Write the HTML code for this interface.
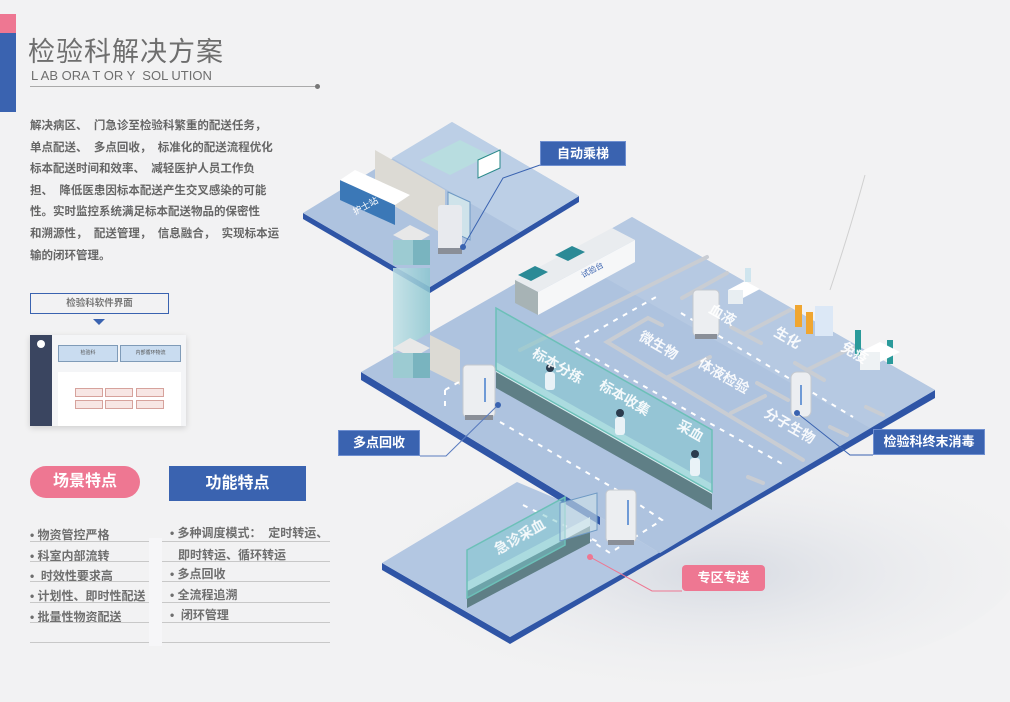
<!DOCTYPE html>
<html><head><meta charset="utf-8"><style>
*{margin:0;padding:0;box-sizing:border-box}
body{width:1010px;height:702px;overflow:hidden;background:#f2f2f3;font-family:"Liberation Sans","Noto Sans CJK SC",sans-serif;position:relative}
.abs{position:absolute}
.para{left:30px;top:116px;width:245px;font-size:11.5px;font-weight:bold;color:#666;line-height:21.6px;white-space:nowrap}
.li{font-size:12px;font-weight:bold;color:#6e6e6e;white-space:nowrap}
.ln{height:1px;background:#c8c8c8}
</style></head><body>
<svg class="abs" style="left:0;top:0" width="1010" height="702">
<defs>
<radialGradient id="g1" cx="0.6" cy="0.55" r="0.5"><stop offset="0" stop-color="#d6dae2"/><stop offset="1" stop-color="#f2f2f3" stop-opacity="0"/></radialGradient>
<linearGradient id="sh" x1="0" y1="0" x2="1" y2="0"><stop offset="0" stop-color="#bfe0e6"/><stop offset="1" stop-color="#8cc6d0"/></linearGradient>
</defs>
<rect x="0" y="0" width="1010" height="702" fill="#f2f2f3"/>
<ellipse cx="640" cy="560" rx="380" ry="130" fill="url(#g1)"/>
<!-- top platform -->
<polygon points="303,213 430,287 430,293 303,219" fill="#2f55a6"/>
<polygon points="430,287 579,196 579,202 430,293" fill="#2f55a6"/>
<polygon points="303,213 452,122 579,196 430,287" fill="#aec3df"/>
<polygon points="452,122 579,196 520,232 392,158" fill="#bccfe6"/>
<polygon points="375,150 445,190 445,235 375,195" fill="#dcdad4"/>
<polygon points="340,180 395,205 395,225 340,200" fill="#3b78b7"/>
<polygon points="340,180 355,170 410,195 395,205" fill="#fff"/>
<text x="355" y="215" fill="#fff" font-size="9" transform="rotate(-28 355 215)">护士站</text>
<polygon points="420,160 460,140 490,155 450,175" fill="#b8dde0"/>
<polygon points="478,160 500,150 500,168 478,178" fill="#fff" stroke="#2a8a8a" stroke-width="1"/>
<polygon points="448,192 470,202 470,240 448,230" fill="#cfe3ea" stroke="#6f9ac4" stroke-width="1"/>
<rect x="438" y="205" width="24" height="48" rx="3" fill="#e8eaee"/>
<rect x="438" y="248" width="24" height="6" fill="#8a8f98"/>
<polygon points="393,235 410,225 430,235 413,245" fill="#e8e8e8"/>
<rect x="393" y="240" width="20" height="25" fill="#9ccbd2"/>
<rect x="413" y="240" width="17" height="25" fill="#79b4bf"/>
<rect x="393" y="268" width="37" height="100" fill="url(#sh)" opacity="0.85"/>
<!-- bottom platform (behind) -->
<polygon points="382,563 510,637 510,644 382,570" fill="#2f55a6"/>
<polygon points="510,637 935,390 935,398 510,644" fill="#2f55a6"/>
<polygon points="382,563 517,482 600,517 660,553 680,541 510,637" fill="#b3c7e2"/>
<!-- main platform -->
<polygon points="361,372 600,517 600,525 361,380" fill="#2f55a6"/>
<polygon points="361,372 632,217 935,390 680,541 660,553 600,517" fill="#aec3df"/>
<polygon points="632,217 935,390 870,428 565,255" fill="#b6c9e2"/>
<polygon points="393,348 410,338 430,348 413,358" fill="#e8e8e8"/>
<rect x="393" y="353" width="20" height="25" fill="#9ccbd2"/>
<rect x="413" y="353" width="17" height="25" fill="#79b4bf"/>
<polygon points="430,335 460,350 460,385 430,370" fill="#dcdad4"/>
<polygon points="515,280 612,228 635,240 538,292" fill="#e9ecef"/>
<polygon points="515,280 538,292 538,315 515,303" fill="#a7b3b5"/>
<polygon points="538,292 635,240 635,262 538,315" fill="#f6f7f8"/>
<polygon points="518,275 535,266 548,272 531,281" fill="#2b8a96"/>
<polygon points="555,255 572,246 585,252 568,261" fill="#2b8a96"/>
<text x="583" y="278" fill="#3a63b0" font-size="8" transform="rotate(-28 583 278)">试验台</text>
<g stroke="#c9cdd3" stroke-width="4" stroke-linecap="round" fill="none">
<line x1="520" y1="350" x2="707" y2="257"/>
<polyline points="662,325 648,318 607,342 803,460"/>
<line x1="682" y1="298" x2="727" y2="273"/>
<line x1="668" y1="377" x2="710" y2="357"/>
<line x1="731" y1="413" x2="765" y2="396"/>
<line x1="731" y1="327" x2="761" y2="343"/>
<line x1="746" y1="333" x2="790" y2="310"/>
<line x1="807" y1="370" x2="853" y2="347"/>
<line x1="795" y1="363" x2="824" y2="380"/>
<line x1="757" y1="383" x2="788" y2="400"/>
<line x1="830" y1="427" x2="847" y2="435"/>
<line x1="748" y1="477" x2="763" y2="483"/>
<line x1="866" y1="407" x2="883" y2="415"/>
</g>
<g stroke="#fff" stroke-width="2" stroke-dasharray="5 6" fill="none">
<line x1="575" y1="343" x2="656" y2="297"/>
<line x1="576" y1="348" x2="786" y2="466"/>
<line x1="681" y1="313" x2="853" y2="417"/>
<polyline points="445,390 480,370 480,370"/>
<line x1="445" y1="390" x2="445" y2="408"/>
<line x1="500" y1="422" x2="622" y2="493"/>
<polyline points="622,493 662,520 610,553 590,540"/>
<line x1="523" y1="505" x2="600" y2="543"/>
</g>
<polygon points="496,370 712,492 712,510 496,388" fill="#5f7f86"/>
<polygon points="496,362 712,484 712,494 496,372" fill="#dbeef2"/>
<polygon points="496,308 712,430 712,492 496,370" fill="#7cc8cc" fill-opacity="0.5" stroke="#6cc0b8" stroke-width="1.5"/>
<g fill="#e9f2f7"><rect x="545" y="372" width="10" height="18" rx="3"/><rect x="615" y="417" width="10" height="18" rx="3"/><rect x="690" y="458" width="10" height="18" rx="3"/></g>
<g fill="#2b3b4d"><circle cx="550" cy="368" r="4"/><circle cx="620" cy="413" r="4"/><circle cx="695" cy="454" r="4"/></g>
<polygon points="467,590 590,525 590,543 467,608" fill="#5f7f86"/>
<polygon points="467,582 590,517 590,526 467,591" fill="#dbeef2"/>
<polygon points="467,550 565,497 565,545 467,598" fill="#7cc8cc" fill-opacity="0.5" stroke="#6cc0b8" stroke-width="1.5"/>
<polygon points="560,503 597,493 597,530 560,541" fill="#cfe3ea" fill-opacity="0.6" stroke="#6f9ac4" stroke-width="1"/>
<polygon points="728,290 745,281 760,289 743,298" fill="#fff"/>
<rect x="728" y="290" width="15" height="14" fill="#e8eef2"/>
<rect x="745" y="268" width="6" height="14" fill="#cfe5ee"/>
<rect x="795" y="305" width="7" height="22" fill="#f0a630"/><rect x="806" y="312" width="7" height="22" fill="#f0a630"/>
<rect x="815" y="306" width="18" height="30" fill="#dce8f6"/>
<rect x="855" y="330" width="6" height="26" fill="#2a9a9a"/><rect x="887" y="340" width="6" height="24" fill="#2a9a9a"/>
<polygon points="860,352 880,342 900,352 880,362" fill="#fff"/><rect x="860" y="352" width="20" height="18" fill="#eef2f4"/>
<g fill="#eceef1" stroke="#c5c9cf" stroke-width="1">
<rect x="463" y="365" width="32" height="52" rx="4"/>
<rect x="606" y="490" width="30" height="52" rx="4"/>
<rect x="693" y="290" width="26" height="46" rx="4"/>
<rect x="791" y="372" width="20" height="45" rx="6"/>
</g>
<g fill="#8a8f98"><rect x="465" y="415" width="28" height="5"/><rect x="608" y="540" width="26" height="5"/><rect x="695" y="334" width="22" height="5"/></g>
<g fill="#6f9ad6"><rect x="484" y="378" width="2" height="24"/><rect x="627" y="500" width="2" height="25"/><rect x="800" y="385" width="2" height="20"/></g>
<g fill="#fff" font-size="14" font-weight="bold" opacity="0.9">
<text x="531" y="356" transform="rotate(30 531 356)">标本分拣</text>
<text x="598" y="388" transform="rotate(30 598 388)">标本收集</text>
<text x="676" y="428" transform="rotate(30 676 428)">采血</text>
<text x="638" y="339" transform="rotate(30 638 339)">微生物</text>
<text x="697" y="366" transform="rotate(30 697 366)">体液检验</text>
<text x="763" y="416" transform="rotate(30 763 416)">分子生物</text>
<text x="773" y="335" transform="rotate(30 773 335)">生化</text>
<text x="840" y="350" transform="rotate(30 840 350)">免疫</text>
<text x="708" y="312" transform="rotate(30 708 312)">血液</text>
<text x="498" y="555" transform="rotate(-30 498 555)">急诊采血</text>
</g>
<g fill="none" stroke-width="1">
<polyline points="463,247 503,178 540,165" stroke="#3a63b0"/>
<polyline points="420,456 446,456 498,405" stroke="#5a7cbf"/>
<polyline points="797,413 850,455 873,455" stroke="#3a63b0"/>
<polyline points="590,557 652,591 682,591" stroke="#ee7792"/>
<path d="M830,290 Q850,230 865,175" stroke="#d0d0d0"/>
</g>
<circle cx="463" cy="247" r="3" fill="#3a63b0"/>
<circle cx="498" cy="405" r="3" fill="#3a63b0"/>
<circle cx="797" cy="413" r="3" fill="#3a63b0"/>
<circle cx="590" cy="557" r="3" fill="#ee7792"/>
</svg>

<div class="abs" style="left:540px;top:141px;width:86px;height:25px;background:#3a63b0;border:1px solid #6f8fd0;color:#fff;font-size:13px;font-weight:bold;text-align:center;line-height:23px">自动乘梯</div>
<div class="abs" style="left:338px;top:430px;width:82px;height:26px;background:#3a63b0;border:1px solid #6f8fd0;color:#fff;font-size:13px;font-weight:bold;text-align:center;line-height:24px">多点回收</div>
<div class="abs" style="left:873px;top:429px;width:112px;height:26px;background:#3a63b0;border:1px solid #6f8fd0;color:#fff;font-size:13px;font-weight:bold;text-align:center;line-height:24px">检验科终末消毒</div>
<div class="abs" style="left:682px;top:565px;width:83px;height:26px;background:#ee7792;border-radius:4px;color:#fff;font-size:13px;font-weight:bold;text-align:center;line-height:26px">专区专送</div>

<div class="abs" style="left:0;top:14px;width:16px;height:19px;background:#ee7792"></div>
<div class="abs" style="left:0;top:33px;width:16px;height:79px;background:#3a63b0"></div>
<div class="abs" style="left:28px;top:30px;font-size:27px;color:#6e6e6e;letter-spacing:1px">检验科解决方案</div>
<div class="abs" style="left:31px;top:68px;font-size:13px;color:#6e6e6e;white-space:pre">L AB ORA T OR Y  SOL UTION</div>
<div class="abs" style="left:30px;top:86px;width:287px;height:1px;background:#aaa"></div>
<div class="abs" style="left:315px;top:84px;width:5px;height:5px;border-radius:50%;background:#777"></div>
<div class="abs para">
解决病区、 &nbsp;门急诊至检验科繁重的配送任务，<br>
单点配送、 &nbsp;多点回收， &nbsp;标准化的配送流程优化<br>
标本配送时间和效率、 &nbsp;减轻医护人员工作负<br>
担、 &nbsp;降低医患因标本配送产生交叉感染的可能<br>
性。实时监控系统满足标本配送物品的保密性<br>
和溯源性， &nbsp;配送管理， &nbsp;信息融合， &nbsp;实现标本运<br>
输的闭环管理。
</div>
<div class="abs" style="left:30px;top:293px;width:139px;height:21px;border:1px solid #3a63b0;font-size:9.5px;font-weight:bold;color:#777;text-align:center;line-height:19px">检验科软件界面</div>
<div class="abs" style="left:93px;top:319px;width:0;height:0;border-left:6px solid transparent;border-right:6px solid transparent;border-top:6px solid #3a63b0"></div>
<div class="abs" style="left:30px;top:335px;width:156px;height:91px;background:#f4f5f7;box-shadow:0 2px 6px rgba(0,0,0,0.15)">
 <div class="abs" style="left:0;top:0;width:22px;height:91px;background:#3a4560"></div>
 <div class="abs" style="left:7px;top:5px;width:8px;height:8px;border-radius:50%;background:#fff"></div>
 <div class="abs" style="left:28px;top:10px;width:60px;height:17px;background:#c9dcf0;border:1px solid #7f9bb8;font-size:5px;text-align:center;line-height:15px;color:#555">检验科</div>
 <div class="abs" style="left:90px;top:10px;width:61px;height:17px;background:#c9dcf0;border:1px solid #7f9bb8;font-size:5px;text-align:center;line-height:15px;color:#555">内部循环物流</div>
 <div class="abs" style="left:28px;top:37px;width:123px;height:54px;background:#fff"></div>
 <div class="abs" style="left:45px;top:53px;width:28px;height:9px;background:#f7e6e4;border:1px solid #d6a29c"></div>
 <div class="abs" style="left:75px;top:53px;width:28px;height:9px;background:#f7e6e4;border:1px solid #d6a29c"></div>
 <div class="abs" style="left:106px;top:53px;width:28px;height:9px;background:#f7e6e4;border:1px solid #d6a29c"></div>
 <div class="abs" style="left:45px;top:65px;width:28px;height:9px;background:#f7e6e4;border:1px solid #d6a29c"></div>
 <div class="abs" style="left:75px;top:65px;width:28px;height:9px;background:#f7e6e4;border:1px solid #d6a29c"></div>
 <div class="abs" style="left:106px;top:65px;width:28px;height:9px;background:#f7e6e4;border:1px solid #d6a29c"></div>
</div>
<div class="abs" style="left:30px;top:466px;width:110px;height:32px;border-radius:16px;background:#ee7792;color:#fff;font-size:16px;font-weight:bold;text-align:center;line-height:32px">场景特点</div>
<div class="abs" style="left:169px;top:466px;width:137px;height:35px;background:#3a63b0;color:#fff;font-size:16px;font-weight:bold;text-align:center;line-height:35px">功能特点</div>
<div class="abs li" style="left:30px;top:526px">• 物资管控严格</div>
<div class="abs li" style="left:30px;top:547px">• 科室内部流转</div>
<div class="abs li" style="left:30px;top:567px">• &nbsp;时效性要求高</div>
<div class="abs li" style="left:30px;top:587px">• 计划性、即时性配送</div>
<div class="abs li" style="left:30px;top:608px">• 批量性物资配送</div>
<div class="abs ln" style="left:30px;top:541px;width:120px"></div>
<div class="abs ln" style="left:30px;top:561px;width:120px"></div>
<div class="abs ln" style="left:30px;top:581px;width:120px"></div>
<div class="abs ln" style="left:30px;top:602px;width:120px"></div>
<div class="abs ln" style="left:30px;top:622px;width:120px"></div>
<div class="abs ln" style="left:30px;top:642px;width:300px"></div>
<div class="abs" style="left:149px;top:538px;width:13px;height:108px;background:#f6f6f8"></div>
<div class="abs li" style="left:170px;top:524px">• 多种调度模式： &nbsp;定时转运、</div>
<div class="abs li" style="left:178px;top:546px">即时转运、循环转运</div>
<div class="abs li" style="left:170px;top:565px">• 多点回收</div>
<div class="abs li" style="left:170px;top:586px">• 全流程追溯</div>
<div class="abs li" style="left:170px;top:606px">• &nbsp;闭环管理</div>
<div class="abs ln" style="left:162px;top:541px;width:168px"></div>
<div class="abs ln" style="left:162px;top:561px;width:168px"></div>
<div class="abs ln" style="left:162px;top:581px;width:168px"></div>
<div class="abs ln" style="left:162px;top:602px;width:168px"></div>
<div class="abs ln" style="left:162px;top:622px;width:168px"></div>
</body></html>
